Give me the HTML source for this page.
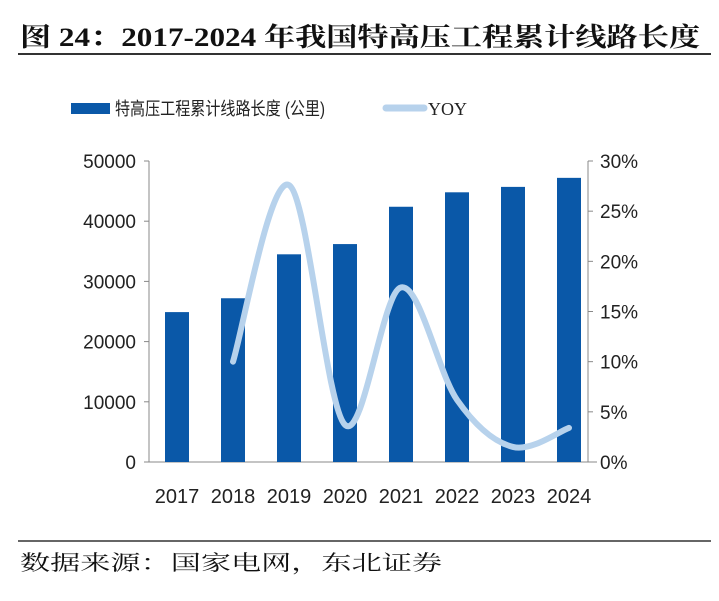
<!DOCTYPE html>
<html><head><meta charset="utf-8"><style>
body{margin:0;background:#fff;width:719px;height:596px;overflow:hidden}
</style></head><body>
<svg width="719" height="596" id="c">
<text x="20" y="46" textLength="680" lengthAdjust="spacingAndGlyphs" font-family="'Liberation Serif','Noto Serif CJK SC',serif" font-size="26" font-weight="bold" fill="#111">图 24：2017-2024 年我国特高压工程累计线路长度</text>
<line x1="18" y1="54" x2="711" y2="54" stroke="#333" stroke-width="2"/>
<rect x="71" y="103" width="39" height="11" fill="#0a58a8"/>
<text x="115" y="115" textLength="210" lengthAdjust="spacingAndGlyphs" font-family="'Liberation Sans','Noto Sans CJK SC',sans-serif" font-size="18" fill="#222">特高压工程累计线路长度 (公里)</text>
<line x1="386" y1="108" x2="424" y2="108" stroke="#b7d2ec" stroke-width="7" stroke-linecap="round"/>
<text x="428" y="115" font-family="'Liberation Serif',serif" font-size="18" fill="#222">YOY</text>
<g id="plot"></g>
<line x1="18" y1="541" x2="711" y2="541" stroke="#333" stroke-width="1.5"/>
<text x="20" y="570" textLength="422" lengthAdjust="spacingAndGlyphs" font-family="'Liberation Serif','Noto Serif CJK SC',serif" font-size="21" fill="#111">数据来源：国家电网，东北证券</text>
</svg>
<script>
const categories=["2017","2018","2019","2020","2021","2022","2023","2024"];
const lengthValues=[24900,27200,34500,36200,42400,44800,45700,47200];
const yoyValues=[null,10.0,27.6,3.7,17.4,6.2,1.5,3.4];
const leftTicks=[0,10000,20000,30000,40000,50000];
const rightTicks=[0,5,10,15,20,25,30];
const NS="http://www.w3.org/2000/svg";
const g=document.getElementById('plot');
const X0=149,X1=597,Y0=462,Y1=161;
const band=(X1-X0)/categories.length;
const xc=i=>X0+band*(i+0.5);
const yl=v=>Y0-(v/50000)*(Y0-Y1);
const yr=v=>Y0-(v/30)*(Y0-Y1);
function mk(t,a){const e=document.createElementNS(NS,t);for(const k in a)e.setAttribute(k,a[k]);g.appendChild(e);return e;}
const F="'Liberation Sans',sans-serif";
let e;
e=mk('line',{x1:X0,y1:Y1,x2:X0,y2:Y0,stroke:'#888','stroke-width':1});


e=mk('line',{x1:X0,y1:Y0,x2:X1,y2:Y0,stroke:'#888','stroke-width':1});


e=mk('line',{x1:X1-9,y1:Y1,x2:X1-9,y2:Y0,stroke:'#888','stroke-width':1});


leftTicks.forEach(v=>{
 e=mk('line',{x1:X0-5,y1:yl(v),x2:X0,y2:yl(v),stroke:'#888'});
 
 
 e=mk('text',{x:X0-13,y:yl(v)+7,'text-anchor':'end','font-family':F,'font-size':19,fill:'#222'});e.textContent=v;
 
 
});
rightTicks.forEach(v=>{
 e=mk('line',{x1:X1-9,y1:yr(v),x2:X1-4,y2:yr(v),stroke:'#888'});
 
 
 e=mk('text',{x:600,y:yr(v)+7,'font-family':F,'font-size':19,fill:'#222'});e.textContent=v+'%';
 
 
});
categories.forEach((c,i)=>{
 e=mk('rect',{x:xc(i)-12,y:yl(lengthValues[i]),width:24,height:Y0-yl(lengthValues[i]),fill:'#0a58a8'});
 
 
 e=mk('text',{x:xc(i),y:Y0+41,'text-anchor':'middle','font-family':F,'font-size':20,fill:'#222'});e.textContent=c;
 
 
});
const pts=[];yoyValues.forEach((v,i)=>{if(v!==null)pts.push([xc(i),yr(v)]);});
let d='M'+pts[0][0]+','+pts[0][1];
for(let i=0;i<pts.length-1;i++){
 const p0=pts[i-1]||pts[i],p1=pts[i],p2=pts[i+1],p3=pts[i+2]||p2;
 const c1=[p1[0]+(p2[0]-p0[0])/6,p1[1]+(p2[1]-p0[1])/6],c2=[p2[0]-(p3[0]-p1[0])/6,p2[1]-(p3[1]-p1[1])/6];
 d+=` C${c1[0]},${c1[1]} ${c2[0]},${c2[1]} ${p2[0]},${p2[1]}`;
}
e=mk('path',{d:d,fill:'none',stroke:'#b7d2ec','stroke-width':6,'stroke-linecap':'round'});


</script>
</body></html>
